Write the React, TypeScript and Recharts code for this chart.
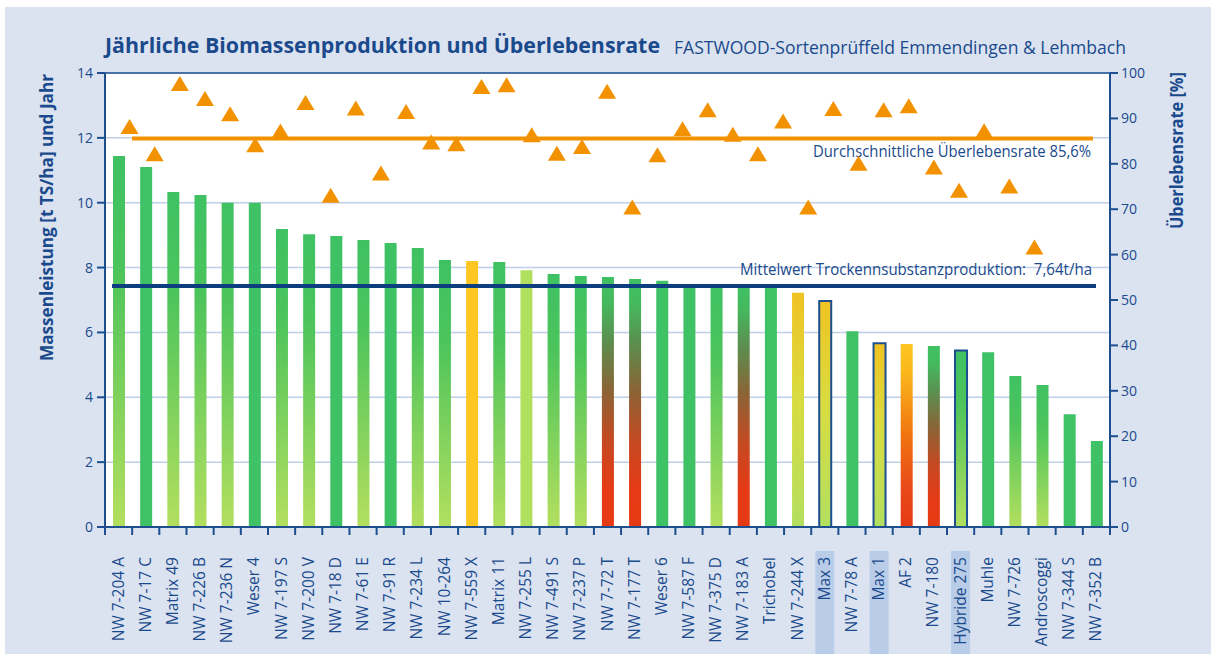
import { ComposedChart, Bar, Line, XAxis, YAxis, CartesianGrid, ReferenceLine, Cell } from 'recharts'

const sorten = [
  'NW 7-204 A', 'NW 7-17 C', 'Matrix 49', 'NW 7-226 B', 'NW 7-236 N', 'Weser 4', 'NW 7-197 S',
  'NW 7-200 V', 'NW 7-18 D', 'NW 7-61 E', 'NW 7-91 R', 'NW 7-234 L', 'NW 10-264', 'NW 7-559 X',
  'Matrix 11', 'NW 7-255 L', 'NW 7-491 S', 'NW 7-237 P', 'NW 7-72 T', 'NW 7-177 T', 'Weser 6',
  'NW 7-587 F', 'NW 7-375 D', 'NW 7-183 A', 'Trichobel', 'NW 7-244 X', 'Max 3', 'NW 7-78 A',
  'Max 1', 'AF 2', 'NW 7-180', 'Hybride 275', 'Muhle', 'NW 7-726', 'Androscoggi', 'NW 7-344 S',
  'NW 7-352 B',
]

// t TS/ha und Jahr
const masse = [
  11.44, 11.1, 10.33, 10.24, 10.0, 10.0, 9.19, 9.03, 8.97, 8.85, 8.76, 8.6, 8.23, 8.2, 8.17, 7.92,
  7.8, 7.74, 7.71, 7.65, 7.59, 7.48, 7.48, 7.48, 7.48, 7.22, 6.97, 6.04, 5.67, 5.64, 5.58, 5.44,
  5.39, 4.66, 4.38, 3.48, 2.65,
]

// Überlebensrate in %
const ueberleben = [
  88.2, 82.2, 97.7, 94.4, 91.0, 84.2, 87.2, 93.5, 73.1, 92.3, 78.0, 91.5, 84.8, 84.4, 97.0, 97.4,
  86.4, 82.3, 83.8, 96.0, 70.5, 82.0, 87.7, 91.9, 86.5, 82.2, 89.4, 70.5, 92.2, 80.1, 91.9, 92.8,
  79.3, 74.2, 87.3, 75.1, 61.7,
]

// Farbverlauf je Balken
const farbe = [
  'gl', 'g', 'gl', 'gl', 'gl', 'g', 'gl', 'gl', 'g', 'gl', 'g', 'gl', 'gl', 'y', 'gl', 'l', 'gl',
  'gl', 'gr', 'gr', 'g', 'g', 'gl', 'gr', 'g', 'yl', 'yl', 'g', 'yl', 'yr', 'gr', 'gl', 'g', 'gl',
  'gl', 'g', 'g',
]

const markiert = ['Max 3', 'Max 1', 'Hybride 275']

const masseTicks = [0, 2, 4, 6, 8, 10, 12, 14]
const rateTicks = [0, 10, 20, 30, 40, 50, 60, 70, 80, 90, 100]

const mittelMasse = 7.43 // so im Original eingezeichnet
const mittelRate = 85.6

const verlaeufe: Record<string, [number, string][]> = {
  g: [[0, '#3fc166'], [1, '#3fc166']],
  gl: [[0, '#3fc163'], [0.3, '#4cc45b'], [1, '#b3df5f']],
  l: [[0, '#b1df5f'], [1, '#b1df5f']],
  y: [[0, '#fdc621'], [1, '#fdc621']],
  gr: [[0, '#3fc163'], [0.1, '#45b95e'], [0.25, '#5a9050'], [0.45, '#8a6436'], [0.65, '#c44a22'], [0.85, '#e53a15'], [1, '#e63a14']],
  yl: [[0, '#f0c322'], [0.45, '#d9dc40'], [1, '#b3df5f']],
  yr: [[0, '#fdc621'], [0.15, '#fbb81c'], [0.5, '#f07410'], [0.8, '#e8481a'], [1, '#e63a14']],
}

const W = 1211
const H = 654
const M = { top: 73, right: 41, bottom: 27, left: 45 }
const AXIS_W = 60
const PLOT_L = M.left + AXIS_W
const PLOT_R = W - M.right - AXIS_W
const PLOT_B = 527
const BAND = (PLOT_R - PLOT_L) / sorten.length

const blau = '#1d4f8f'
const textBlau = '#1a4a8c'
const orange = '#f39200'
const font = "'Open Sans', sans-serif"

const data = sorten.map((name, i) => ({ name, masse: masse[i], rate: ueberleben[i] }))

const SortenTick = (props: any) => {
  const { x, payload, index } = props
  const name = payload.value as string
  const links = x - BAND / 2
  return (
    <g>
      {markiert.includes(name) && <rect x={x - 9.5} y={551} width={19} height={H - 551} fill="#b9cde8" />}
      <line x1={links} y1={PLOT_B} x2={links} y2={PLOT_B + 8} stroke={blau} strokeWidth={2} />
      {index === sorten.length - 1 && (
        <line x1={links + BAND} y1={PLOT_B} x2={links + BAND} y2={PLOT_B + 8} stroke={blau} strokeWidth={2} />
      )}
      <text
        x={x + 5}
        y={557}
        transform={`rotate(-90 ${x + 5} 557)`}
        textAnchor="end"
        fill={textBlau}
        fontSize={15.5}
        fontFamily={font}
      >
        {name}
      </text>
    </g>
  )
}

const Dreieck = (p: any) => (
  <polygon
    key={`d${p.index}`}
    points={`${p.cx},${p.cy - 7.5} ${p.cx + 9},${p.cy + 7.5} ${p.cx - 9},${p.cy + 7.5}`}
    fill={orange}
  />
)

// Linie mit eingerückten Enden wie im Original
const kurzeLinie = (einL: number, einR: number, farbe: string) => (p: any) => {
  const a = Math.min(p.x1, p.x2)
  const b = Math.max(p.x1, p.x2)
  return <line x1={a + einL} y1={p.y1} x2={b - einR} y2={p.y2} stroke={farbe} strokeWidth={4} />
}

export default function App() {
  return (
    <div style={{ position: 'absolute', left: 0, top: 0, width: W, height: H, background: '#fff' }}>
      <div style={{ position: 'absolute', left: 5, top: 7, right: 0, bottom: 0, background: '#dbe3f1' }} />
      <div style={{ position: 'absolute', left: 0, top: 0 }}>
        <ComposedChart width={W} height={H} data={data} margin={M}>
          <defs>
            {Object.entries(verlaeufe).map(([id, stops]) => (
              <linearGradient key={id} id={`v-${id}`} x1="0" y1="0" x2="0" y2="1">
                {stops.map(([o, c]) => (
                  <stop key={o} offset={o} stopColor={c} />
                ))}
              </linearGradient>
            ))}
          </defs>
          <CartesianGrid
            xAxisId="bars"
            yAxisId="left"
            vertical={false}
            stroke="#bfcfe7"
            strokeWidth={1.5}
            fill="#fff"
            fillOpacity={1}
          />
          <XAxis
            xAxisId="bars"
            dataKey="name"
            interval={0}
            height={100}
            tickLine={false}
            axisLine={{ stroke: blau, strokeWidth: 2 }}
            tick={<SortenTick />}
          />
          <XAxis xAxisId="tri" dataKey="name" hide padding={{ left: 12, right: 63 }} />
          <YAxis
            yAxisId="left"
            domain={[0, 14]}
            ticks={masseTicks}
            width={AXIS_W}
            tickSize={8}
            tickMargin={4}
            axisLine={{ stroke: blau, strokeWidth: 2 }}
            tickLine={{ stroke: blau, strokeWidth: 2 }}
            tick={{ fill: textBlau, fontSize: 14, fontFamily: font }}
          />
          <YAxis
            yAxisId="right"
            orientation="right"
            domain={[0, 100]}
            ticks={rateTicks}
            width={AXIS_W}
            tickSize={8}
            tickMargin={3}
            axisLine={{ stroke: blau, strokeWidth: 2 }}
            tickLine={{ stroke: blau, strokeWidth: 2 }}
            tick={{ fill: textBlau, fontSize: 14, fontFamily: font }}
          />
          <ReferenceLine xAxisId="bars" yAxisId="left" y={14} stroke={blau} strokeWidth={1.5} />
          <Bar xAxisId="bars" yAxisId="left" dataKey="masse" barSize={12} isAnimationActive={false}>
            {data.map((d, i) => (
              <Cell
                key={d.name}
                fill={`url(#v-${farbe[i]})`}
                stroke={markiert.includes(d.name) ? blau : 'none'}
                strokeWidth={markiert.includes(d.name) ? 2 : 0}
              />
            ))}
          </Bar>
          <ReferenceLine
            xAxisId="bars"
            yAxisId="right"
            y={mittelRate}
            shape={kurzeLinie(27, 17, orange)}
            label={{
              content: (lp: any) => {
                const vb = lp.viewBox
                return (
                  <text
                    x={vb.x + vb.width - 19}
                    y={vb.y + 19}
                    textAnchor="end"
                    fill={textBlau}
                    fontSize={16}
                    fontFamily={font}
                    textLength={278}
                    lengthAdjust="spacingAndGlyphs"
                  >
                    Durchschnittliche Überlebensrate 85,6%
                  </text>
                )
              },
            }}
          />
          <ReferenceLine
            xAxisId="bars"
            yAxisId="left"
            y={mittelMasse}
            shape={kurzeLinie(7, 14, '#0d3f80')}
            label={{
              content: (lp: any) => {
                const vb = lp.viewBox
                return (
                  <text
                    x={vb.x + vb.width - 18}
                    y={vb.y - 11}
                    textAnchor="end"
                    fill={textBlau}
                    fontSize={16}
                    fontFamily={font}
                    textLength={352}
                    lengthAdjust="spacingAndGlyphs"
                    style={{ whiteSpace: 'pre' }}
                  >
                    {'Mittelwert Trockennsubstanzproduktion:  7,64t/ha'}
                  </text>
                )
              },
            }}
          />
          <Line
            xAxisId="tri"
            yAxisId="right"
            dataKey="rate"
            stroke="none"
            dot={Dreieck}
            activeDot={false}
            isAnimationActive={false}
          />
        </ComposedChart>
      </div>
      <svg width={W} height={H} style={{ position: 'absolute', left: 0, top: 0, pointerEvents: 'none' }}>
        <text x={105} y={53} fill={textBlau} fontSize={21} fontWeight="bold" fontFamily={font} textLength={555} lengthAdjust="spacingAndGlyphs">
          Jährliche Biomassenproduktion und Überlebensrate
        </text>
        <text x={674} y={54} fill={textBlau} fontSize={17.5} fontFamily={font} textLength={452} lengthAdjust="spacingAndGlyphs">
          FASTWOOD-Sortenprüffeld Emmendingen &amp; Lehmbach
        </text>
        <text
          x={53}
          y={217.5}
          transform="rotate(-90 53 217.5)"
          textAnchor="middle"
          fill={textBlau}
          fontSize={17}
          fontWeight="bold"
          fontFamily={font}
          textLength={287}
          lengthAdjust="spacingAndGlyphs"
        >
          Massenleistung [t TS/ha] und Jahr
        </text>
        <text
          x={1183}
          y={150.5}
          transform="rotate(-90 1183 150.5)"
          textAnchor="middle"
          fill={textBlau}
          fontSize={17}
          fontWeight="bold"
          fontFamily={font}
          textLength={157}
          lengthAdjust="spacingAndGlyphs"
        >
          Überlebensrate [%]
        </text>
      </svg>
    </div>
  )
}
